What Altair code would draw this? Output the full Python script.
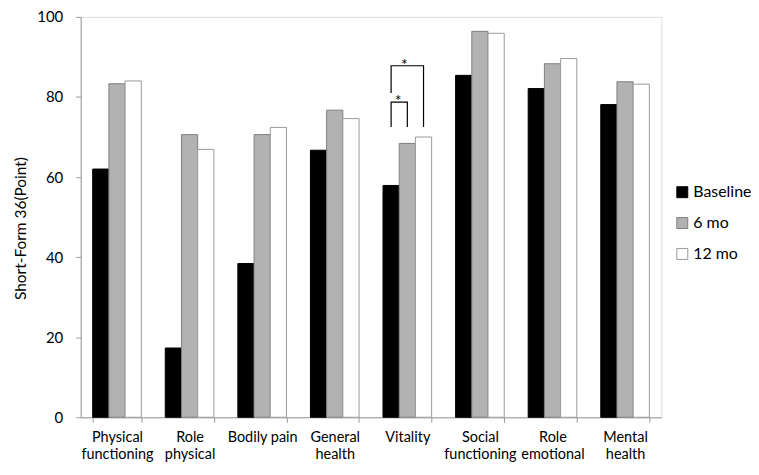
import altair as alt
import pandas as pd

categories = ["Physical functioning", "Role physical", "Bodily pain", "General health",
              "Vitality", "Social functioning", "Role emotional", "Mental health"]
series = ["Baseline", "6 mo", "12 mo"]
baseline = [62.0, 17.3, 38.4, 66.7, 57.9, 85.4, 82.1, 78.1]
six_mo = [83.3, 70.6, 70.6, 76.7, 68.4, 96.4, 88.3, 83.8]
twelve_mo = [84.0, 66.9, 72.4, 74.6, 70.0, 95.9, 89.6, 83.2]

fills = ["#000000", "#b2b2b2", "#ffffff"]
strokes = ["#000000", "#7f7f7f", "#9a9a9a"]

rows = []
for i, c in enumerate(categories):
    for s, vals in zip(series, [baseline, six_mo, twelve_mo]):
        rows.append({"category": c, "series": s, "value": vals[i]})
df = pd.DataFrame(rows)

# significance brackets (Vitality): id, series, value, order
bracket_id = ["a", "a", "a", "a", "b", "b", "b", "b"]
bracket_series = ["Baseline", "Baseline", "6 mo", "6 mo", "Baseline", "Baseline", "12 mo", "12 mo"]
bracket_value = [72.5, 78.7, 78.7, 72.5, 81.0, 87.8, 87.8, 72.5]
bracket_order = [0, 1, 2, 3, 0, 1, 2, 3]
bdf = pd.DataFrame({"category": "Vitality", "id": bracket_id, "series": bracket_series,
                    "value": bracket_value, "ord": bracket_order})

star_series = ["Baseline", "6 mo"]
star_value = [78.7, 87.8]
star_dx = [7, -3]
sdf = pd.DataFrame({"category": "Vitality", "series": star_series, "value": star_value})

FONT = "Lato"

x = alt.X("category:N", sort=categories, title=None,
          scale=alt.Scale(paddingInner=0.33, paddingOuter=0.165),
          axis=alt.Axis(labelAngle=0, labelFontSize=14.5, labelFont=FONT, labelColor="#000000",
                        labelExpr="datum.label == 'Bodily pain' ? datum.label : split(datum.label, ' ')",
                        labelLineHeight=17.5, labelPadding=8, labelBaseline="top",
                        tickBand="extent", tickSize=5, tickColor="#9a9a9a",
                        domainColor="#9a9a9a", labelFlush=False))
xo = alt.XOffset("series:N", sort=series, scale=alt.Scale(paddingInner=0, paddingOuter=0))
y = alt.Y("value:Q", title="Short-Form 36(Point)",
          scale=alt.Scale(domain=[0, 100], nice=False),
          axis=alt.Axis(values=[0, 20, 40, 60, 80, 100], grid=False, labelFontSize=15,
                        labelFont=FONT, labelColor="#000000", titleFont=FONT, titleFontSize=15.5,
                        titleFontWeight="normal", titleColor="#000000",
                        titleX=-60, titleY=212, titleAngle=270, titleBaseline="middle",
                        tickSize=5, labelPadding=13, tickColor="#9a9a9a", domainColor="#9a9a9a"))

bars = alt.Chart(df).mark_bar(strokeWidth=1).encode(
    x=x, xOffset=xo, y=y,
    color=alt.Color("series:N", sort=series, title=None,
                    scale=alt.Scale(domain=series, range=fills),
                    legend=alt.Legend(orient="none", legendX=596, legendY=168,
                                      symbolType="square", symbolSize=121,
                                      symbolStrokeWidth=1, labelFontSize=16, labelFont=FONT,
                                      labelColor="#000000", rowPadding=15, labelOffset=3)),
    stroke=alt.Stroke("series:N", sort=series, scale=alt.Scale(domain=series, range=strokes),
                      legend=None),
)

brackets = alt.Chart(bdf).mark_line(color="#000000", strokeWidth=1.2).encode(
    x=alt.X("category:N", sort=categories), xOffset=alt.XOffset("series:N", sort=series),
    y=alt.Y("value:Q"), detail="id:N", order="ord:Q")

stars_a = alt.Chart(sdf.iloc[[0]]).mark_text(text="*", fontSize=16, font=FONT, dx=star_dx[0],
                                              color="#000000", baseline="alphabetic", dy=4).encode(
    x=alt.X("category:N", sort=categories), xOffset=alt.XOffset("series:N", sort=series),
    y=alt.Y("value:Q"))
stars_b = alt.Chart(sdf.iloc[[1]]).mark_text(text="*", fontSize=16, font=FONT, dx=star_dx[1],
                                              color="#000000", baseline="alphabetic", dy=4).encode(
    x=alt.X("category:N", sort=categories), xOffset=alt.XOffset("series:N", sort=series),
    y=alt.Y("value:Q"))

chart = alt.layer(bars, brackets, stars_a, stars_b).properties(
    width=583, height=402,
    autosize=alt.AutoSizeParams(type="none"),
    padding={"left": 73, "top": 8, "right": 90, "bottom": 50},
).configure_view(stroke=None).configure(background="#ffffff")

chart.save("out.html", embed_options={"renderer": "svg", "actions": False})
